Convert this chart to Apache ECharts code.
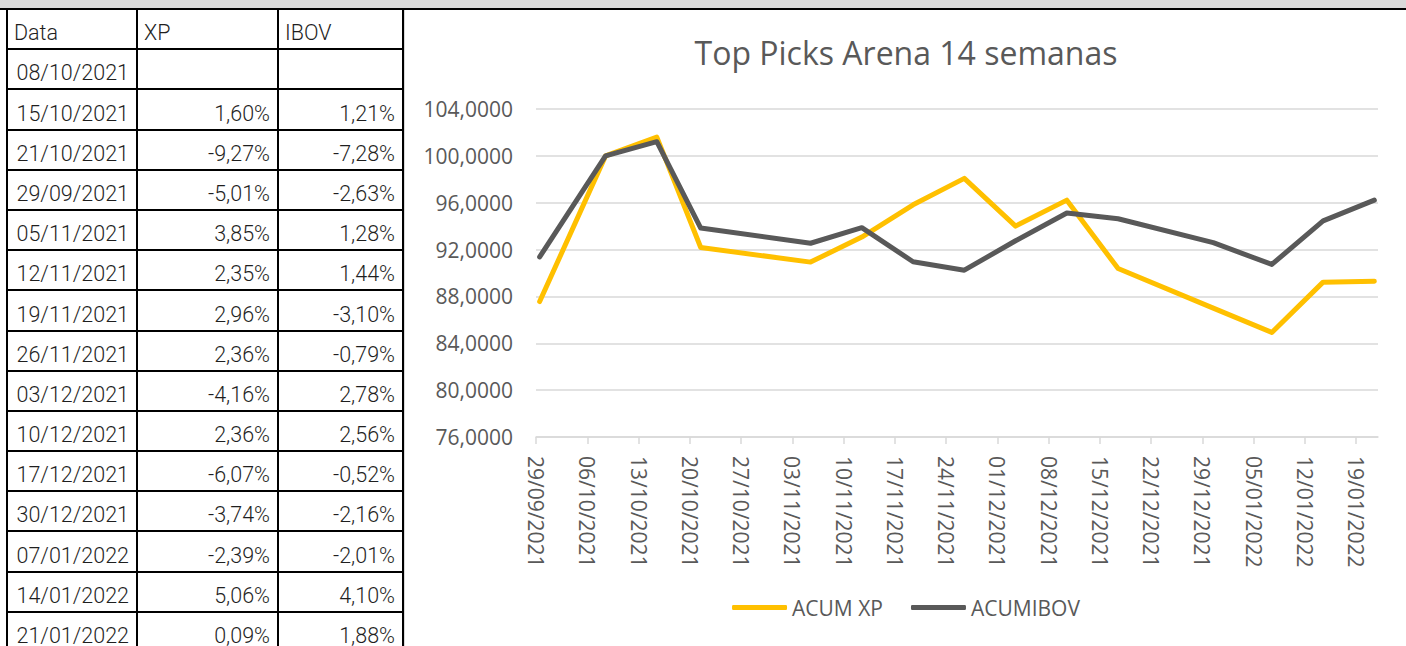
<!DOCTYPE html>
<html>
<head>
<meta charset="utf-8">
<script src="https://cdn.jsdelivr.net/npm/echarts@6/dist/echarts.min.js"></script>
<style>
  html, body { margin: 0; padding: 0; width: 1406px; height: 646px; overflow: hidden; background: #ffffff; }
  #topbar { position: absolute; left: 0; top: 0; width: 1406px; height: 8px; background: #d9d9d9; }
  #topline { position: absolute; left: 0; top: 8px; width: 1406px; height: 2px; background: #000; }
  #subline { position: absolute; left: 404px; top: 10px; width: 1002px; height: 1px; background: #dcdcdc; }
  #tbl { position: absolute; left: 6px; top: 8px; border-collapse: collapse; table-layout: fixed;
         font-family: Roboto, "Noto Sans", sans-serif; font-weight: 300; font-size: 21.5px; color: #1f1f1f; }
  #tbl td { border: 2px solid #000; height: 40.2px; padding: 0 7px 3px 6px; vertical-align: bottom;
            white-space: nowrap; overflow: hidden; box-sizing: border-box; line-height: 24px; }
  #tbl td.num { text-align: right; }
  #tbl td.hdr { text-align: left; }
  #chart { position: absolute; left: 404px; top: 10px; width: 1002px; height: 636px; border-left: 1px solid #d9d9d9; }
</style>
</head>
<body>
<div id="topbar"></div>
<div id="topline"></div>
<div id="subline"></div>
<table id="tbl"><colgroup><col style="width:130px"><col style="width:141px"><col style="width:125px"></colgroup><tbody id="tbody"></tbody></table>
<div id="chart"></div>
<script>
// ---- Table data ----
var tableHeader = ['Data', 'XP', 'IBOV'];
var tableDates = ['08/10/2021','15/10/2021','21/10/2021','29/09/2021','05/11/2021','12/11/2021','19/11/2021','26/11/2021','03/12/2021','10/12/2021','17/12/2021','30/12/2021','07/01/2022','14/01/2022','21/01/2022'];
var xpReturns = ['', '1,60%', '-9,27%', '-5,01%', '3,85%', '2,35%', '2,96%', '2,36%', '-4,16%', '2,36%', '-6,07%', '-3,74%', '-2,39%', '5,06%', '0,09%'];
var ibovReturns = ['', '1,21%', '-7,28%', '-2,63%', '1,28%', '1,44%', '-3,10%', '-0,79%', '2,78%', '2,56%', '-0,52%', '-2,16%', '-2,01%', '4,10%', '1,88%'];

// ---- Chart data ----
var chartTitle = 'Top Picks Arena 14 semanas';
var seriesNames = ['ACUM XP', 'ACUMIBOV'];
var chartDates = ['2021-09-29','2021-10-08','2021-10-15','2021-10-21','2021-11-05','2021-11-12','2021-11-19','2021-11-26','2021-12-03','2021-12-10','2021-12-17','2021-12-30','2022-01-07','2022-01-14','2022-01-21'];
var acumXP   = [87.56, 100.00, 101.60, 92.18, 90.93, 93.07, 95.82, 98.08, 94.00, 96.22, 90.38, 87.00, 84.92, 89.22, 89.30];
var acumIBOV = [91.37, 100.00, 101.21, 93.84, 92.54, 93.87, 90.96, 90.24, 92.75, 95.12, 94.63, 92.59, 90.73, 94.45, 96.22];
var xTickLabels = ['29/09/2021','06/10/2021','13/10/2021','20/10/2021','27/10/2021','03/11/2021','10/11/2021','17/11/2021','24/11/2021','01/12/2021','08/12/2021','15/12/2021','22/12/2021','29/12/2021','05/01/2022','12/01/2022','19/01/2022'];
var xAxisStart = '2021-09-29';
var xAxisEnd = '2022-01-22';
var yMin = 76, yMax = 104, yStep = 4;

// ---- Build table ----
(function () {
  var tb = document.getElementById('tbody');
  var html = '<tr><td class="hdr">' + tableHeader[0] + '</td><td class="hdr">' + tableHeader[1] + '</td><td class="hdr">' + tableHeader[2] + '</td></tr>';
  for (var i = 0; i < tableDates.length; i++) {
    html += '<tr><td class="num">' + tableDates[i] + '</td><td class="num">' + xpReturns[i] + '</td><td class="num">' + ibovReturns[i] + '</td></tr>';
  }
  tb.innerHTML = html;
})();

// ---- Chart ----
function isoTs(s) { var p = s.split('-'); return Date.UTC(+p[0], +p[1] - 1, +p[2]); }
function brTs(s) { var p = s.split('/'); return Date.UTC(+p[2], +p[1] - 1, +p[0]); }
var HALF_DAY = 12 * 3600 * 1000;
var tickTs = xTickLabels.map(brTs);
var tickMap = {};
tickTs.forEach(function (t, i) { tickMap[t] = xTickLabels[i]; });

var chart = echarts.init(document.getElementById('chart'), null, { renderer: 'svg' });
var FONT = '"Open Sans", sans-serif';
var option = {
  animation: false,
  backgroundColor: '#ffffff',
  title: {
    text: chartTitle, left: 'center', top: 21,
    textStyle: { fontFamily: FONT, fontSize: 32, fontWeight: 'normal', color: '#595959' }
  },
  legend: {
    data: seriesNames, bottom: 23, left: 'center',
    icon: 'roundRect', itemWidth: 55, itemHeight: 5, itemGap: 28,
    textStyle: { fontFamily: FONT, fontSize: 21, color: '#595959' }
  },
  grid: { left: 131, right: 29, top: 99, bottom: 209, outerBoundsMode: 'none', containLabel: false },
  xAxis: {
    type: 'value',
    min: isoTs(xAxisStart), max: isoTs(xAxisEnd),
    axisLine: { show: true, lineStyle: { color: '#d9d9d9', width: 1.5 } },
    axisTick: { show: true, length: 7, customValues: tickTs, lineStyle: { color: '#d9d9d9', width: 1.5 } },
    axisLabel: {
      customValues: tickTs, rotate: -90, margin: 19,
      fontFamily: FONT, fontSize: 21, color: '#595959',
      formatter: function (v) { return tickMap[v] || ''; }
    },
    splitLine: { show: false }
  },
  yAxis: {
    type: 'value', min: yMin, max: yMax, interval: yStep,
    axisLine: { show: false }, axisTick: { show: false },
    axisLabel: {
      margin: 23, fontFamily: FONT, fontSize: 21, color: '#595959',
      formatter: function (v) { return v.toFixed(4).replace('.', ','); }
    },
    splitLine: { lineStyle: { color: '#d9d9d9', width: 1.5 } }
  },
  series: [
    {
      name: seriesNames[0], type: 'line', symbol: 'none',
      data: chartDates.map(function (d, i) { return [isoTs(d) + HALF_DAY, acumXP[i]]; }),
      lineStyle: { color: '#FFC000', width: 5, cap: 'round', join: 'round' },
      itemStyle: { color: '#FFC000' }
    },
    {
      name: seriesNames[1], type: 'line', symbol: 'none',
      data: chartDates.map(function (d, i) { return [isoTs(d) + HALF_DAY, acumIBOV[i]]; }),
      lineStyle: { color: '#595959', width: 5, cap: 'round', join: 'round' },
      itemStyle: { color: '#595959' }
    }
  ]
};
chart.setOption(option);
</script>
</body>
</html>
